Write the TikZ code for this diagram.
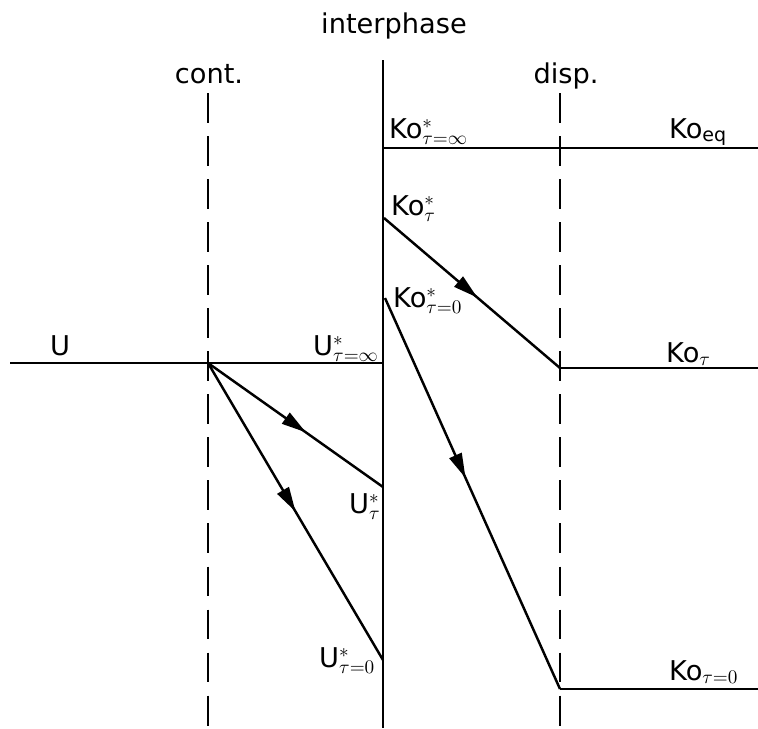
\documentclass[tikz,border=0pt]{standalone}
\usepackage{fontspec}
\setmainfont{DejaVu Sans}
\usetikzlibrary{arrows.meta,decorations.markings}

\begin{document}
\begin{tikzpicture}[x=0.02cm,y=-0.02cm,line width=1.4pt,every node/.style={font=\fontsize{15.5}{18}\selectfont,inner sep=0pt},
  phaseline/.style={dash pattern=on 17pt off 7.5pt},
  midarrow/.style={postaction={decorate},decoration={markings,mark=at position #1 with {\arrow{Triangle[length=14pt,width=7.5pt]}}}}]
\useasboundingbox (0,0) rectangle (758,728);
\coordinate (ifTop) at (383,60);
\coordinate (ifBot) at (383,728);
\coordinate (contTop) at (208,93);
\coordinate (contBot) at (208,728);
\coordinate (dispTop) at (560,93);
\coordinate (dispBot) at (560,728);
\coordinate (uLeft) at (10,363);
\coordinate (uCont) at (208,363);
\coordinate (uIf) at (383,363);
\coordinate (uTau) at (383,487);
\coordinate (uZero) at (383,660);
\coordinate (koEqIf) at (383,148);
\coordinate (koEqRight) at (758,148);
\coordinate (koTauIf) at (384,218);
\coordinate (koTauDisp) at (560,368);
\coordinate (koTauRight) at (758,368);
\coordinate (koZeroIf) at (385,298);
\coordinate (koZeroDisp) at (560,689);
\coordinate (koZeroRight) at (758,689);
\node[anchor=base] (interphase) at (394,33) {interphase};
\node[anchor=base] (cont) at (209,83) {cont.};
\node[anchor=base] (disp) at (566,83) {disp.};
\node[anchor=base] (uLab) at (60,355) {U};
\node[anchor=base west] (uInfLab) at (312,355) {U$^{*}_{\tau=\infty}$};
\node[anchor=base west] (uTauLab) at (348,513) {U$^{*}_{\tau}$};
\node[anchor=base west] (uZeroLab) at (318,667) {U$^{*}_{\tau=0}$};
\node[anchor=base west] (koInfLab) at (388,138) {Ko$^{*}_{\tau=\infty}$};
\node[anchor=base west] (koTauStarLab) at (390,215) {Ko$^{*}_{\tau}$};
\node[anchor=base west] (koZeroStarLab) at (392,307) {Ko$^{*}_{\tau=0}$};
\node[anchor=base west] (koEqLab) at (668,138) {Ko\textsubscript{eq}};
\node[anchor=base west] (koTauLab) at (665,362) {Ko$_{\tau}$};
\node[anchor=base west] (koZeroLab) at (668,680) {Ko$_{\tau=0}$};
\draw (ifTop)--(ifBot);
\draw[phaseline] (contTop)--(contBot);
\draw[phaseline] (dispTop)--(dispBot);
\draw (uLeft)--(uIf);
\draw (koEqIf)--(koEqRight);
\draw (koTauDisp)--(koTauRight);
\draw (koZeroDisp)--(koZeroRight);
\draw[midarrow=0.56] (uCont)--(uTau);
\draw[midarrow=0.5] (uCont)--(uZero);
\draw[midarrow=0.53] (koTauIf)--(koTauDisp);
\draw[midarrow=0.46] (koZeroIf)--(koZeroDisp);
\end{tikzpicture}
\end{document}
